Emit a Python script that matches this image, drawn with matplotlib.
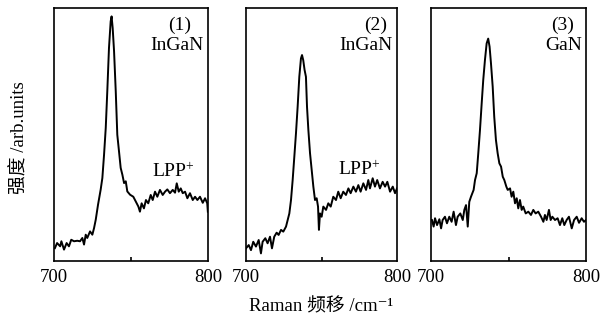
import matplotlib
matplotlib.use("Agg")
import matplotlib.pyplot as plt

plt.rcParams['font.family'] = ['Liberation Serif', 'Noto Sans CJK SC', 'DejaVu Sans']
plt.rcParams['mathtext.fontset'] = 'custom'
plt.rcParams['mathtext.rm'] = 'Liberation Serif'
plt.rcParams['mathtext.it'] = 'Liberation Serif:italic'

# spectra (x: Raman shift cm^-1, y: intensity, arb. units 0-100)
x1 = [700.6, 702, 704, 704.8, 706.5, 708.2, 709.7, 711.2, 713, 715.1, 716.9, 718.4,
      719.5, 720.6, 721.6, 723.4, 724.9, 726, 727.1, 728.6, 730.3, 731.4, 732.5, 733.6,
      734.6, 735.7, 736.8, 737.4, 738.1, 739, 740.1, 741.1, 742.2, 743.3, 744.4, 745.5,
      746.6, 747.6, 749.4, 751.5, 753.2, 754.8, 755.8, 756.9, 758.4, 759.7, 761.2,
      762.8, 764.1, 765.6, 767.1, 768.8, 770.6, 772.1, 773.6, 775.3, 777.1, 778.6,
      779.7, 781, 782.3, 783.6, 785.1, 786.6, 788.3, 790.1, 791.6, 793.1, 794.8,
      796.6, 798.1, 799.5, 799.9]
y1 = [5.1, 7.1, 5.8, 7.8, 4.5, 7.1, 5.8, 8.4, 7.8, 8.0, 7.8, 9.1,
      6.5, 10.4, 9.1, 11.7, 10.4, 13, 16.3, 22.3, 28.2, 32.8, 42, 52.6,
      67, 84.2, 94.7, 96.7, 92.1, 82.9, 67, 49.9, 43.4, 36.8, 34.1, 30.8,
      31.5, 27.5, 26.2, 25.4, 23.4, 21.5, 19.5, 22.8, 20.8, 24.1, 22.8,
      26.1, 24.1, 27.4, 25.4, 28.1, 26.1, 27.4, 28.3, 26.8, 28.1, 27,
      30.7, 27.4, 28.7, 26.8, 27.4, 24.8, 26.8, 24.1, 25.4, 24.1, 25.4,
      23, 24.8, 22.8, 19.5]

x2 = [700, 701.8, 703.3, 704.8, 706.6, 708.4, 709.9, 711, 712.8, 714.3, 715.9, 717.2,
      718.7, 720.3, 721.6, 723.2, 724.7, 726.5, 727.6, 728.7, 729.8, 730.9, 732, 733.1,
      734.2, 735.3, 736.4, 737.1, 737.9, 738.8, 739.7, 740.4, 741.3, 742.4, 743.5,
      744.6, 745.7, 746.8, 747.7, 748.3, 749, 750.1, 751.2, 753, 754.5, 756.1, 757.8,
      759.6, 761.1, 762.7, 764.4, 766.2, 767.8, 769.3, 771.1, 772.8, 774.4, 775.9,
      777.7, 779.5, 781, 782.1, 783.9, 785.4, 786.9, 788.7, 790.5, 792.1, 793.6,
      795.4, 797.2, 798.7, 800]
y2 = [5, 6.3, 4.3, 7.6, 5.7, 8.3, 3, 7.6, 9, 7, 9.6, 5,
      9.6, 11.2, 10.3, 12.3, 11.6, 13.6, 16.2, 18.8, 24.1, 32, 41.2, 50.5,
      61, 72.8, 80.1, 81.4, 79.4, 75.5, 72.8, 61, 51.8, 42.6, 36,
      29.4, 24.1, 24.8, 21.5, 12.3, 18.8, 17.5, 21.5, 20.2, 22.8, 21.5, 25.4,
      24.1, 27.4, 24.8, 27.4, 26.1, 28.7, 26.8, 29.4, 27.4, 30, 27.4,
      30.7, 28.1, 32, 28.7, 32.7, 29.4, 32, 28.7, 31.3, 29.4, 31.3,
      27.4, 29.4, 26.8, 28.7]

x3 = [700.6, 701.7, 702.6, 703.9, 705.4, 706.5, 707.5, 709, 710.3, 711.8, 713.3, 714.6,
      716.1, 717.2, 718.9, 720.5, 721.5, 722.6, 723.7, 724.7, 725.8, 727.5, 728.4,
      729.5, 730.5, 731.6, 732.7, 733.7, 734.8, 735.9, 736.9, 737.8, 738.7, 739.8,
      740.8, 741.9, 743, 744.1, 745.2, 746.3, 747.3, 748.6, 749.5, 751, 752, 753.1,
      754.2, 755.3, 756.3, 757.4, 758.5, 759.5, 761.1, 762.8, 764.5, 766, 767.5,
      769.2, 771, 772.5, 773.5, 774.6, 776.1, 777.2, 778.3, 780, 781.7, 783.2,
      784.7, 786, 787.5, 789, 790.8, 792.3, 794, 795.5, 797.2, 798.7, 800]
y3 = [16.2, 13.6, 16.9, 14.2, 16.5, 12.9, 16.2, 17.5, 14.9, 17.5, 15.5, 19.5,
      14.2, 17.5, 18.8, 16.2, 20.2, 22.1, 13.6, 23.4, 25.4, 28.1, 32,
      34.7, 42.6, 51.8, 62.3, 71.5, 79.4, 86, 87.9, 84.7, 78.1, 68.9,
      57, 47.8, 42.6, 38.6, 37.3, 33.3, 32, 29.4, 28.1, 28.7, 25.4, 27.4,
      22.8, 24.8, 20.8, 24.1, 20.2, 21.5, 18.8, 19.5, 18.2, 20.2, 18.8,
      19.5, 17.5, 15.5, 18.2, 16.2, 20.2, 16.2, 17.5, 16.2, 16.9, 14.2,
      16.9, 14.2, 16.2, 17.5, 12.9, 16.2, 17.5, 15.1, 16.9, 15.5, 16.2]

panels = [
    (x1, y1, "(1)", "InGaN", True, [54, 154], 0.818),
    (x2, y2, "(2)", "InGaN", True, [246, 151], 0.861),
    (x3, y3, "(3)", "GaN", False, [431, 155], 0.852),
]
lpp_pos = [(0.773, 0.352), (0.752, 0.36)]

W, H = 606, 321
fig = plt.figure(figsize=(W / 100, H / 100), dpi=100)

for n, (xs, ys, num, mat, lpp, (left, width), numx) in enumerate(panels):
    ax = fig.add_axes([left / W, (H - 261) / H, width / W, 253 / H])
    ax.plot(xs, ys, color='black', lw=1.4)
    ax.set_xlim(700, 800)
    ax.set_ylim(0, 100)
    ax.set_xticks([700, 800])
    ax.set_xticks([750], minor=True)
    ax.set_yticks([])
    ax.tick_params(axis='x', which='major', length=0, pad=6, labelsize=13.5)
    ax.tick_params(axis='x', which='minor', length=3, width=1.2, direction='in')
    for s in ax.spines.values():
        s.set_linewidth(1.2)
    ax.text(numx, 0.93, num, transform=ax.transAxes, ha='center', va='center', fontsize=14)
    ax.text(0.972, 0.852, mat, transform=ax.transAxes, ha='right', va='center', fontsize=14)
    if lpp:
        px, py = lpp_pos[n]
        ax.text(px, py, r"LPP$^{+}$", transform=ax.transAxes, ha='center', va='center',
                fontsize=14)

fig.text(20 / W, 1 - 138 / H, "强度 /arb.units", rotation=90, ha='center', va='center',
         fontsize=13.5)
fig.text(321 / W, 1 - 307 / H, "Raman 频移 /cm\u207b\u00b9", ha='center', va='center',
         fontsize=13.5)

fig.savefig("out.png", dpi=100)
